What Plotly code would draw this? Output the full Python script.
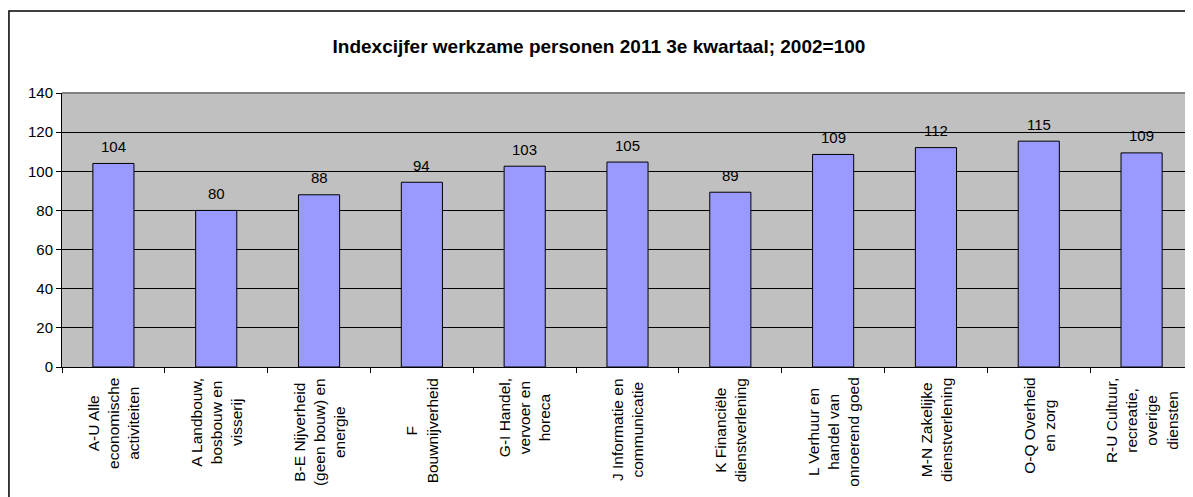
import plotly.graph_objects as go

categories = [
    "A-U Alle<br>economische<br>activiteiten",
    "A Landbouw,<br>bosbouw en<br>visserij",
    "B-E Nijverheid<br>(geen bouw) en<br>energie",
    "F<br>Bouwnijverheid",
    "G-I Handel,<br>vervoer en<br>horeca",
    "J Informatie en<br>communicatie",
    "K Financiële<br>dienstverlening",
    "L Verhuur en<br>handel van<br>onroerend goed",
    "M-N Zakelijke<br>dienstverlening",
    "O-Q Overheid<br>en zorg",
    "R-U Cultuur,<br>recreatie,<br>overige<br>diensten",
]
index_values = [104.0, 80.0, 88.0, 94.4, 102.6, 104.7, 89.3, 108.6, 112.1, 115.4, 109.4]
y_ticks = [0, 20, 40, 60, 80, 100, 120, 140]

font_family = "Liberation Sans, Arial, sans-serif"

fig = go.Figure()
fig.add_trace(go.Bar(
    x=categories,
    y=index_values,
    marker=dict(color="#9999FF", line=dict(color="#000000", width=1)),
    hoverinfo="x+y",
))

# data labels above the bars, rounded like the original
for cat, val in zip(categories, index_values):
    fig.add_annotation(
        x=cat, y=val, text=str(round(val)), showarrow=False,
        yanchor="middle", yshift=17,
        font=dict(family=font_family, size=15, color="#000000"),
    )

# rotated, centred category labels
for cat in categories:
    fig.add_annotation(
        x=cat, y=0, text=cat, showarrow=False, textangle=-90,
        align="center", xanchor="center", yanchor="top", yshift=-9,
        font=dict(family=font_family, size=15.5, color="#000000"),
    )

fig.update_xaxes(
    type="category",
    showticklabels=False,
    ticks="outside",
    tickson="boundaries",
    ticklen=5,
    tickcolor="#000000",
    showline=True,
    linecolor="#000000",
    linewidth=1,
    showgrid=False,
)
fig.update_yaxes(
    range=[0, 140],
    tickvals=y_ticks,
    ticks="outside",
    ticklen=5,
    tickcolor="#000000",
    showline=True,
    linecolor="#000000",
    linewidth=1,
    showgrid=True,
    gridcolor="#000000",
    gridwidth=1,
    zeroline=False,
    tickfont=dict(family=font_family, size=15, color="#000000"),
)

# the page body adds an 8px margin, so the figure is 8px smaller than the window
fig.update_layout(
    width=1185, height=489,
    margin=dict(l=54, r=0, t=85, b=130),
    plot_bgcolor="#C0C0C0",
    paper_bgcolor="#FFFFFF",
    bargap=0.6,
    showlegend=False,
    title=dict(
        text="<b>Indexcijfer werkzame personen 2011 3e kwartaal; 2002=100</b>",
        x=0.4987, xref="container", xanchor="center",
        y=1 - 38 / 489, yref="container", yanchor="middle",
        font=dict(family=font_family, size=19, color="#000000"),
    ),
    shapes=[
        # grey top border of the plot area
        dict(type="line", xref="paper", yref="paper", x0=0, x1=1, y0=1, y1=1,
             line=dict(color="#808080", width=2), layer="above"),
        # outer chart frame
        dict(type="rect", xref="paper", yref="paper",
             x0=-0.0469, x1=1.2, y0=-1.0, y1=1.299,
             line=dict(color="#000000", width=1.5), layer="above"),
    ],
)

fig.write_html("out.html")
